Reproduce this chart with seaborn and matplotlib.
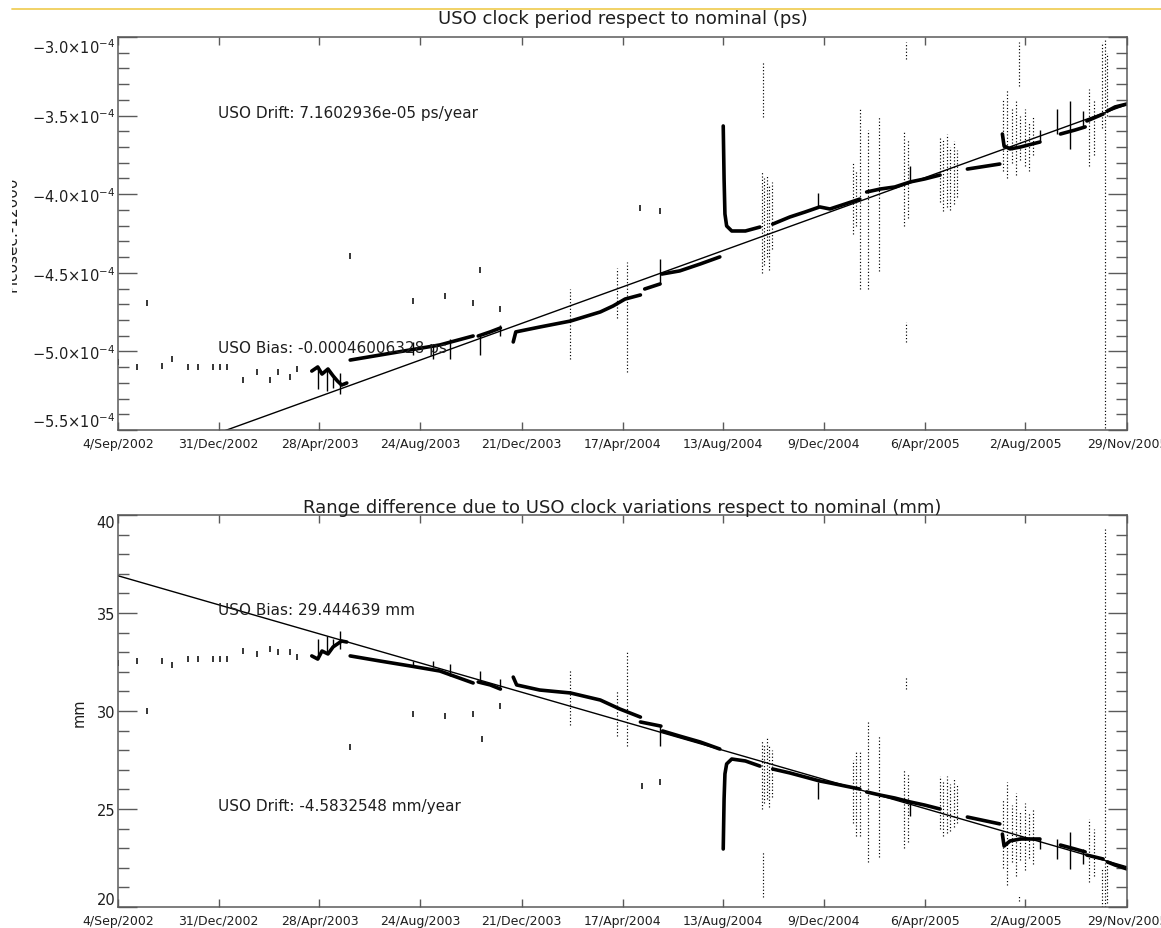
import numpy as np
import pandas as pd
import matplotlib
matplotlib.use("Agg")
import matplotlib.pyplot as plt
import seaborn as sns
from matplotlib.lines import Line2D
from matplotlib.ticker import FixedLocator, MultipleLocator
from matplotlib.transforms import Bbox, TransformedBbox

# ---------------- data ----------------
START = "4/Sep/2002"
tick_labels = ["4/Sep/2002", "31/Dec/2002", "28/Apr/2003", "24/Aug/2003", "21/Dec/2003",
               "17/Apr/2004", "13/Aug/2004", "9/Dec/2004", "6/Apr/2005", "2/Aug/2005",
               "29/Nov/2005"]
x_end_day = 1182  # 29/Nov/2005 in days since start

# top panel: USO clock period (units of 1e-4 ps)
period_fit_day = [0, 1182]
period_fit = [-5.75, -3.43]

period_pts_day = [0, 22, 34, 52, 63, 82, 94, 111, 119, 128, 146, 163, 178, 187, 201, 210,
                  272, 346, 383, 416, 424, 448, 612, 635]
period_pts = [-5.07, -5.10, -4.69, -5.09, -5.05, -5.10, -5.10, -5.10, -5.10, -5.10, -5.18,
              -5.13, -5.18, -5.13, -5.16, -5.11, -4.39, -4.68, -4.65, -4.69, -4.48, -4.73,
              -4.09, -4.11]

period_seg = [1]*8 + [2]*5 + [3]*3 + [4]*8 + [5]*2 + [6]*4 + [7]*7 + [8]*7 + [9]*6 + [10]*2 + \
             [11]*5 + [12]*3 + [13]*2 + [14]*3
period_day = [227, 234, 239, 246, 252, 257, 262, 268,
              272, 307, 342, 377, 416,
              422, 436, 448,
              463, 466, 494, 530, 565, 580, 594, 612,
              617, 635,
              637, 658, 682, 705,
              709, 710, 711, 713, 719, 735, 752,
              767, 787, 805, 822, 834, 852, 869,
              877, 893, 910, 928, 945, 963,
              995, 1033,
              1036, 1038, 1045, 1057, 1080,
              1104, 1121, 1133,
              1135, 1154,
              1159, 1168, 1182]
period_val = [-5.125, -5.099, -5.144, -5.112, -5.156, -5.188, -5.214, -5.201,
              -5.055, -5.023, -4.991, -4.959, -4.902,
              -4.902, -4.876, -4.851,
              -4.940, -4.876, -4.845, -4.807, -4.749, -4.711, -4.667, -4.641,
              -4.603, -4.571,
              -4.508, -4.488, -4.444, -4.399,
              -3.566, -3.903, -4.126, -4.202, -4.234, -4.234, -4.209,
              -4.190, -4.145, -4.113, -4.081, -4.094, -4.062, -4.031,
              -3.986, -3.967, -3.954, -3.922, -3.903, -3.878,
              -3.840, -3.808,
              -3.617, -3.693, -3.712, -3.700, -3.668,
              -3.617, -3.592, -3.572,
              -3.534, -3.490,
              -3.471, -3.445, -3.426]

period_spike_day = [234, 245, 252, 260, 346, 369, 389, 424, 448, 635, 820, 928, 1080, 1100, 1115, 1130]
period_spike_hi = [-5.10, -5.12, -5.16, -5.14, -4.94, -4.95, -4.92, -4.90, -4.83, -4.41, -3.99,
                   -3.82, -3.59, -3.46, -3.41, -3.47]
period_spike_lo = [-5.24, -5.25, -5.23, -5.27, -5.02, -5.05, -5.05, -5.02, -4.90, -4.57, -4.08,
                   -3.92, -3.67, -3.62, -3.71, -3.57]

period_scatter_day = [530, 585, 596, 756, 754, 757, 760, 763, 766, 861, 864, 869, 879, 891,
                      921, 925, 923, 923, 963, 967, 971, 975, 979, 983,
                      1037, 1042, 1047, 1052, 1057, 1062, 1067, 1072, 1056, 1137, 1143,
                      1156, 1153, 1158]
period_scatter_hi = [-4.60, -4.47, -4.43, -3.16, -3.86, -3.90, -3.88, -3.95, -3.92, -3.80, -3.85,
                     -3.46, -3.59, -3.51, -3.60, -3.65, -3.03, -4.81, -3.63, -3.65, -3.62, -3.70,
                     -3.66, -3.72, -3.40, -3.33, -3.45, -3.40, -3.50, -3.46, -3.55, -3.50, -3.03,
                     -3.33, -3.40, -3.01, -3.03, -3.10]
period_scatter_lo = [-5.05, -4.79, -5.13, -3.51, -4.50, -4.45, -4.40, -4.48, -4.35, -4.25, -4.20,
                     -4.60, -4.60, -4.49, -4.20, -4.15, -3.14, -4.94, -4.05, -4.11, -4.08, -4.10,
                     -4.06, -4.02, -3.85, -3.90, -3.80, -3.88, -3.78, -3.82, -3.85, -3.75, -3.31,
                     -3.82, -3.75, -5.49, -3.58, -3.50]

# bottom panel: range difference (mm)
range_fit_day = [0, 1182]
range_fit = [36.9, 22.05]

range_pts_day = [0, 22, 34, 52, 63, 82, 94, 111, 119, 128, 146, 163, 178, 187, 201, 210,
                 272, 346, 383, 416, 426, 448, 614, 635]
range_pts = [32.45, 32.55, 30.00, 32.55, 32.35, 32.65, 32.65, 32.65, 32.65, 32.65, 33.06,
             32.91, 33.16, 33.01, 33.01, 32.76, 28.16, 29.85, 29.74, 29.85, 28.57, 30.26,
             26.17, 26.38]

range_seg = [1]*8 + [2]*5 + [3]*3 + [4]*7 + [5]*2 + [6]*4 + [7]*7 + [8]*7 + [9]*6 + [10]*2 + \
            [11]*5 + [12]*3 + [13]*2 + [14]*3
range_day = [227, 234, 239, 246, 252, 257, 262, 268,
             272, 307, 342, 377, 416,
             422, 436, 448,
             463, 467, 494, 530, 565, 588, 612,
             612, 636,
             638, 658, 682, 705,
             709, 710, 711, 713, 719, 735, 752,
             767, 787, 805, 822, 834, 852, 869,
             877, 893, 910, 928, 945, 963,
             995, 1033,
             1036, 1038, 1045, 1057, 1080,
             1104, 1121, 1133,
             1135, 1154,
             1159, 1168, 1182]
range_val = [32.81, 32.65, 33.06, 32.91, 33.27, 33.42, 33.57, 33.52,
             32.81, 32.55, 32.30, 32.04, 31.43,
             31.48, 31.33, 31.12,
             31.73, 31.33, 31.07, 30.92, 30.56, 30.10, 29.69,
             29.44, 29.23,
             28.98, 28.72, 28.42, 28.06,
             22.96, 25.51, 26.79, 27.30, 27.55, 27.45, 27.19,
             27.04, 26.84, 26.63, 26.43, 26.33, 26.17, 26.02,
             25.87, 25.71, 25.56, 25.36, 25.20, 25.00,
             24.59, 24.24,
             23.72, 23.11, 23.37, 23.47, 23.47,
             23.16, 22.96, 22.81,
             22.65, 22.45,
             22.30, 22.14, 21.94]

range_spike_day = [234, 245, 252, 260, 346, 369, 389, 424, 448, 635, 820, 928, 1080, 1100, 1115, 1130]
range_spike_hi = [33.67, 33.83, 33.67, 34.08, 32.55, 32.55, 32.40, 32.04, 31.63, 29.23, 26.38,
                  25.36, 23.47, 23.47, 23.83, 22.96]
range_spike_lo = [32.65, 32.91, 33.27, 33.16, 32.30, 32.25, 31.79, 31.48, 31.22, 28.21, 25.51,
                  24.64, 22.96, 22.45, 21.94, 22.19]

range_scatter_day = [530, 585, 596, 754, 757, 760, 763, 766, 756, 861, 864, 869, 879, 891,
                     921, 925, 923, 963, 967, 971, 975, 979, 983,
                     1037, 1042, 1047, 1052, 1057, 1062, 1067, 1072, 1056, 1137, 1143,
                     1156, 1153, 1158]
range_scatter_hi = [32.14, 31.0, 33.0, 28.5, 28.3, 28.6, 28.2, 28.0, 22.8, 27.5, 27.9, 27.91,
                    29.44, 28.72, 27.0, 26.8, 31.79, 26.7, 26.5, 26.7, 26.3, 26.6, 26.2,
                    25.5, 26.4, 25.2, 25.8, 24.9, 25.3, 24.8, 25.0, 20.6, 24.5, 24.0,
                    39.3, 22.0, 22.3]
range_scatter_lo = [29.29, 28.7, 28.2, 25.0, 25.3, 25.5, 25.1, 25.6, 20.5, 24.3, 23.6, 23.62,
                    22.30, 22.55, 23.0, 23.3, 31.12, 24.0, 23.6, 23.8, 23.9, 24.1, 24.3,
                    22.0, 21.1, 22.3, 21.6, 22.4, 21.9, 22.5, 22.2, 20.3, 21.3, 21.6,
                    20.0, 20.0, 20.2]

# ---------------- plotting ----------------
sns.set_style("white")
plt.rcParams["font.family"] = ["DejaVu Sans"]
plt.rcParams["mathtext.fontset"] = "dejavusans"

W, H = 1161, 929
fig = plt.figure(figsize=(W / 100, H / 100), dpi=100)
fig.patch.set_facecolor("white")

def frac_axes(x0, y0, x1, y1):
    return fig.add_axes([x0 / W, 1 - y1 / H, (x1 - x0) / W, (y1 - y0) / H])

ax1 = frac_axes(118, 38, 1127, 431)
ax2 = frac_axes(118, 516, 1127, 908)

start = pd.to_datetime(START, format="%d/%b/%Y")
tick_days = [(pd.to_datetime(t, format="%d/%b/%Y") - start).days for t in tick_labels]

TXT = "#1e1e1e"
SPINE = "#5a5a5a"
DOT = (0, (1.0, 1.8))

def draw(ax, scale, fit_day, fit, pts_day, pts, seg, day, val, sp_day, sp_hi, sp_lo,
         sc_day, sc_hi, sc_lo):
    sc = np.asarray
    ax.vlines(sc(sc_day), sc(sc_lo) * scale, sc(sc_hi) * scale, colors="black",
              linestyles=DOT, linewidth=0.85)
    ax.vlines(sc(sp_day), sc(sp_lo) * scale, sc(sp_hi) * scale, colors="black", linewidth=1.0)
    df = pd.DataFrame({"day": day, "val": sc(val) * scale, "seg": seg})
    sns.lineplot(data=df, x="day", y="val", units="seg", estimator=None, sort=False,
                 color="black", linewidth=2.6, ax=ax, legend=False)
    ax.plot(pts_day, sc(pts) * scale, ls="none", marker="|", ms=4, mew=1.1, color="black")
    sns.lineplot(x=fit_day, y=sc(fit) * scale, color="black", linewidth=1.0, ax=ax,
                 legend=False)
    ax.set_xlim(0, x_end_day)
    ax.xaxis.set_major_locator(FixedLocator(tick_days))
    ax.set_xticklabels(tick_labels)
    ax.set_xlabel("")
    ax.set_ylabel("")
    for s in ax.spines.values():
        s.set_color(SPINE)
        s.set_linewidth(1.1)
        s.set_visible(True)
    ax.tick_params(axis="x", which="major", direction="in", length=5.5, width=1.0,
                   top=True, bottom=True, colors=SPINE, labelcolor=TXT, labelsize=9, pad=5)
    ax.tick_params(axis="y", which="major", direction="in", length=14, width=1.0,
                   left=True, right=True, colors=SPINE, labelcolor=TXT, labelsize=10.5, pad=2)
    ax.tick_params(axis="y", which="minor", direction="in", length=8, width=1.0,
                   left=True, right=True, colors=SPINE)
    ax.tick_params(axis="x", which="minor", bottom=False, top=False)

draw(ax1, 1e-4, period_fit_day, period_fit, period_pts_day, period_pts, period_seg,
     period_day, period_val, period_spike_day, period_spike_hi, period_spike_lo,
     period_scatter_day, period_scatter_hi, period_scatter_lo)
draw(ax2, 1.0, range_fit_day, range_fit, range_pts_day, range_pts, range_seg,
     range_day, range_val, range_spike_day, range_spike_hi, range_spike_lo,
     range_scatter_day, range_scatter_hi, range_scatter_lo)

# y axes
ytop = [-5.5, -5.0, -4.5, -4.0, -3.5, -3.0]
ax1.set_ylim(-5.5e-4, -3.0e-4)
ax1.yaxis.set_major_locator(FixedLocator([v * 1e-4 for v in ytop]))
ax1.yaxis.set_minor_locator(MultipleLocator(0.1e-4))
ax1.set_yticklabels([r"$-%.1f{\times}10^{-4}$" % abs(v) for v in ytop])

ybot = [20, 25, 30, 35, 40]
ax2.set_ylim(20, 40)
ax2.yaxis.set_major_locator(FixedLocator(ybot))
ax2.yaxis.set_minor_locator(MultipleLocator(1))
ax2.set_yticklabels([str(v) for v in ybot])

# keep end labels inside the axis range, as IDL does
for ax in (ax1, ax2):
    labs = ax.get_yticklabels()
    labs[0].set_va("bottom")
    labs[-1].set_va("top")

# titles
ax1.set_title("USO clock period respect to nominal (ps)", fontsize=13, color=TXT, pad=10)
ax2.set_title("Range difference due to USO clock variations respect to nominal (mm)",
              fontsize=13, color=TXT, pad=2)

# annotations
kw = dict(fontsize=11, color=TXT, va="center", ha="left")
ax1.text(0.099, 0.809, "USO Drift: 7.1602936e-05 ps/year", transform=ax1.transAxes, **kw)
ax1.text(0.099, 0.211, "USO Bias: -0.00046006328 ps", transform=ax1.transAxes, **kw)
ax2.text(0.099, 0.760, "USO Bias: 29.444639 mm", transform=ax2.transAxes, **kw)
ax2.text(0.099, 0.260, "USO Drift: -4.5832548 mm/year", transform=ax2.transAxes, **kw)

# axis labels (the top one is cropped at the page edge in the original)
ylab = fig.text(12 / W, 1 - 234 / H, "Picosec.-12000", rotation=90, ha="center",
                va="center", fontsize=11, color=TXT)
ylab.set_clip_box(TransformedBbox(Bbox([[11.5 / W, 0], [1, 1]]), fig.transFigure))
ylab.set_clip_on(True)
fig.text(79 / W, 1 - 713 / H, "mm", rotation=90, ha="center", va="center",
         fontsize=10.5, color=TXT)

# yellow rule at the top of the page
fig.add_artist(Line2D([12 / W, 1.0], [1 - 9.5 / H, 1 - 9.5 / H], color="#f0cf5a",
                      linewidth=1.3, transform=fig.transFigure))

fig.savefig("out.png", dpi=100, facecolor="white")
